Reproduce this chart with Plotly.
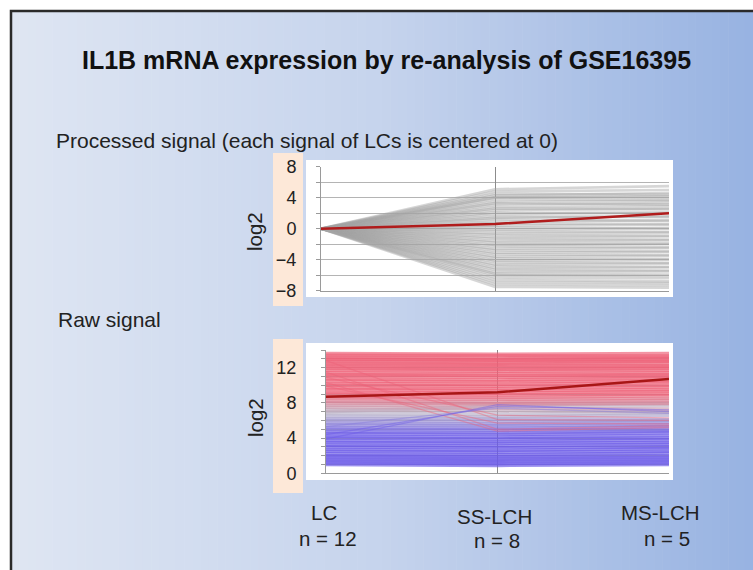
import plotly.graph_objects as go

# ---------------- data ----------------
groups = ["LC", "SS-LCH", "MS-LCH"]
group_names = ["LC", "SS-LCH", "MS-LCH"]
group_n = ["n = 12", "n = 8", "n = 5"]

# processed signal (each probe centred at 0 in LC)
proc_lc = [0.0] * 52
proc_ss = [5.1, 4.8, 4.5, 4.3, 4.1, 4.0, 3.8, 3.5, 3.3, 3.1,
           2.8, 2.6, 2.4, 2.1, 1.9, 1.6, 1.4, 1.2, 0.9, 0.7,
           0.4, 0.2, -0.1, -0.3, -0.6, -0.8, -1.1, -1.3, -1.6, -1.8,
           -2.1, -2.3, -2.6, -2.8, -3.1, -3.3, -3.6, -3.8, -4.1, -4.3,
           -4.6, -4.8, -5.1, -5.3, -5.6, -5.8, -6.0, -6.3, -6.6, -6.9,
           -7.2, -7.5]
proc_ms = [5.5, 5.0, 4.4, 4.6, 4.0, 4.2, 3.7, 3.6, 3.1, 3.3,
           2.9, 2.5, 2.6, 2.0, 2.1, 1.5, 1.6, 1.0, 1.1, 0.6,
           0.5, 0.0, 0.1, -0.4, -0.5, -0.9, -1.0, -1.4, -1.5, -1.9,
           -2.0, -2.4, -2.5, -2.9, -3.0, -3.4, -3.5, -3.9, -4.0, -4.4,
           -4.5, -4.9, -5.0, -5.4, -5.5, -5.9, -6.1, -6.4, -6.8, -7.0,
           -7.3, -7.6]

# raw signal
raw_lc = [13.6, 13.4, 13.2, 13.0, 12.9, 12.7, 12.5, 12.3, 12.1, 11.9,
          11.7, 11.4, 11.2, 11.0, 10.7, 10.5, 10.2, 10.0, 9.7, 9.5,
          9.2, 9.0, 8.7, 8.5, 8.2, 8.0, 7.7, 7.5, 7.2, 7.0,
          6.8, 6.5, 6.2, 6.0, 5.7, 5.5, 5.2, 5.0, 4.7, 4.5,
          4.2, 4.0, 3.7, 3.5, 3.2, 3.0, 2.7, 2.5, 2.2, 2.0,
          1.8, 1.6, 1.4, 1.2, 1.0,
          12.8, 11.5, 10.9, 10.3, 9.9, 4.4, 3.9, 5.3]
raw_ss = [13.5, 13.4, 13.1, 12.9, 12.9, 12.6, 12.4, 12.3, 12.0, 11.8,
          11.6, 11.3, 11.1, 10.9, 10.6, 10.4, 10.1, 9.9, 9.6, 9.4,
          9.1, 8.9, 8.6, 8.4, 8.1, 7.9, 7.8, 7.4, 7.1, 7.6,
          6.7, 6.4, 6.2, 5.9, 5.6, 5.4, 5.1, 4.9, 4.6, 4.4,
          4.1, 3.9, 3.6, 3.4, 3.1, 2.9, 2.6, 2.4, 2.1, 1.9,
          1.7, 1.5, 1.3, 1.1, 0.9,
          6.1, 5.0, 6.6, 4.8, 5.7, 7.6, 7.8, 7.4]
raw_ms = [13.6, 13.3, 13.2, 13.0, 12.8, 12.7, 12.5, 12.2, 12.1, 11.9,
          11.7, 11.4, 11.2, 11.0, 10.8, 10.5, 10.3, 10.0, 9.8, 9.5,
          9.3, 9.0, 8.8, 8.5, 8.3, 8.0, 7.9, 7.3, 7.0, 7.7,
          6.9, 6.6, 6.1, 6.0, 5.8, 5.5, 5.3, 5.0, 4.8, 4.6,
          4.3, 4.0, 3.8, 3.5, 3.3, 3.0, 2.8, 2.5, 2.3, 2.0,
          1.8, 1.6, 1.4, 1.2, 1.0,
          6.0, 5.4, 6.3, 5.2, 5.6, 7.2, 7.0, 6.8]

# IL1B itself
il1b_proc = [0.0, 0.6, 2.0]
il1b_raw = [8.7, 9.2, 10.7]

title_text = "IL1B mRNA expression by re-analysis of GSE16395"

# ---------------- helpers ----------------
W, H = 753, 570
def px(x): return x / W
def py(y): return 1 - y / H

def lerp(a, b, t): return tuple(a[i] + (b[i] - a[i]) * t for i in range(3))

BLUE = (108, 92, 232); MID = (188, 182, 200); RED = (238, 98, 120)
def raw_rgb(v):
    if v <= 4.5: return BLUE
    if v <= 6.9: return lerp(BLUE, MID, (v - 4.5) / 2.4)
    if v <= 9.0: return lerp(MID, RED, (v - 6.9) / 2.1)
    return RED

xs = [0, 1, 2]
fig = go.Figure()

for a, b, c in zip(proc_lc, proc_ss, proc_ms):
    fig.add_trace(go.Scatter(x=xs, y=[a, b, c], mode="lines",
                             line=dict(color="rgba(165,165,165,0.45)", width=2.6),
                             hoverinfo="skip", showlegend=False, xaxis="x", yaxis="y"))
fig.add_trace(go.Scatter(x=xs, y=il1b_proc, mode="lines",
                         line=dict(color="#b01c1c", width=2.5),
                         showlegend=False, xaxis="x", yaxis="y"))

rows = list(zip(raw_lc, raw_ss, raw_ms))
flat = [r for r in rows if abs(r[0] - r[1]) < 1.5]
cross = [r for r in rows if abs(r[0] - r[1]) >= 1.5]
for a, b, c in sorted(flat, key=lambda r: r[0]):
    col = raw_rgb(a)
    fig.add_trace(go.Scatter(x=xs, y=[a, b, c], mode="lines",
                             line=dict(color="rgba(%d,%d,%d,0.68)" % col, width=3.6),
                             hoverinfo="skip", showlegend=False, xaxis="x2", yaxis="y2"))
for a, b, c in cross:
    col = raw_rgb(a)
    fig.add_trace(go.Scatter(x=xs, y=[a, b, c], mode="lines",
                             line=dict(color="rgba(%d,%d,%d,0.45)" % col, width=1.3),
                             hoverinfo="skip", showlegend=False, xaxis="x2", yaxis="y2"))
fig.add_trace(go.Scatter(x=xs, y=il1b_raw, mode="lines",
                         line=dict(color="#a81616", width=2.5),
                         showlegend=False, xaxis="x2", yaxis="y2"))

# ---------------- background shapes ----------------
shapes = []
left_c = (223, 230, 243); mid_c = (198, 212, 237); right_c = (152, 179, 226)
x0b, y0b = 11, 11
N = 90
for i in range(N):
    xa = x0b + (W - x0b) * i / N
    xb = x0b + (W - x0b) * (i + 1) / N + 0.6
    t = (i + 0.5) / N
    c = lerp(left_c, mid_c, t / 0.5) if t < 0.5 else lerp(mid_c, right_c, (t - 0.5) / 0.5)
    shapes.append(dict(type="rect", xref="paper", yref="paper",
                       x0=px(xa), x1=px(xb), y0=0, y1=py(y0b),
                       fillcolor="rgb(%d,%d,%d)" % c, line=dict(width=0), layer="below"))
# frame: only left and top edges are visible in the crop
shapes.append(dict(type="path", xref="paper", yref="paper",
                   path="M %f,%f L %f,%f L %f,%f" % (px(x0b), 0, px(x0b), py(y0b), 1, py(y0b)),
                   line=dict(color="#2a2a2a", width=2.5), layer="below"))
for (x0, x1, y0, y1, col) in [
        (273, 303, 153, 306, "#fde8d8"),
        (273, 303, 339, 493, "#fde8d8"),
        (306, 673, 160, 297, "white"),
        (306, 673, 343, 480, "white")]:
    shapes.append(dict(type="rect", xref="paper", yref="paper",
                       x0=px(x0), x1=px(x1), y0=py(y1), y1=py(y0),
                       fillcolor=col, line=dict(width=0), layer="below"))

FONT = "Liberation Sans, Arial, sans-serif"
tick_font = dict(family=FONT, size=18, color="#222")
grid = "#b4b4b4"

def ann(text, x, y, size, xanchor="center", angle=0, color="#222"):
    return dict(text=text, x=px(x), y=py(y), xref="paper", yref="paper",
                xanchor=xanchor, yanchor="middle", textangle=angle, showarrow=False,
                font=dict(family=FONT, size=size, color=color))

annotations = [
    ann("<b>%s</b>" % title_text, 386, 60, 25, color="#111"),
    ann("Processed signal (each signal of LCs is centered at 0)", 54, 140, 21, "left"),
    ann("Raw signal", 56, 319, 21, "left"),
    ann("log2", 255, 231, 20.5, angle=-90),
    ann("log2", 255, 417, 20.5, angle=-90),
]
cat_pos = [(324, 512, 328, 538), (494, 516, 497, 540), (660, 512, 667, 538)]
for name, n, (xa, ya, xn, yn) in zip(group_names, group_n, cat_pos):
    annotations.append(ann(name, xa, ya, 20.5))
    annotations.append(ann(n, xn, yn, 20.5))

xcommon = dict(range=[0, 2], tickvals=[0, 1, 2], ticktext=groups, showticklabels=False,
               showgrid=True, gridcolor="#8c8c8c", gridwidth=1, zeroline=False,
               showline=True, linecolor="#9a9a9a", fixedrange=True, automargin=False)
fig.update_layout(
    width=W, height=H, margin=dict(l=0, r=0, t=0, b=0, pad=0, autoexpand=False),
    paper_bgcolor="white", plot_bgcolor="rgba(0,0,0,0)",
    shapes=shapes, annotations=annotations,
    xaxis=dict(domain=[px(321), px(669)], anchor="y", **xcommon),
    yaxis=dict(domain=[py(290.7), py(166.7)], anchor="x", range=[-8, 8], tick0=0, dtick=4,
               showgrid=True, gridcolor=grid, zeroline=False, showline=True, linecolor="#9a9a9a",
               ticks="outside", ticklen=4, tickcolor="#9a9a9a", tickfont=tick_font,
               ticklabelstandoff=16, fixedrange=True, automargin=False,
               minor=dict(dtick=2, showgrid=True, gridcolor=grid, ticks="outside", ticklen=4,
                          tickcolor="#9a9a9a")),
    xaxis2=dict(domain=[px(326), px(669)], anchor="y2", **xcommon),
    yaxis2=dict(domain=[py(473.3), py(350)], anchor="x2", range=[0, 14], tick0=0, dtick=4,
                showgrid=True, gridcolor=grid, zeroline=False, showline=True, linecolor="#9a9a9a",
                ticks="outside", ticklen=4, tickcolor="#9a9a9a", tickfont=tick_font,
                ticklabelstandoff=21, fixedrange=True, automargin=False,
                minor=dict(dtick=1, showgrid=True, gridcolor=grid, ticks="outside", ticklen=4,
                           tickcolor="#9a9a9a")),
)
fig.write_html("out.html", config={"displayModeBar": False},
               post_script="document.body.style.margin='0';document.body.style.overflow='hidden';")
